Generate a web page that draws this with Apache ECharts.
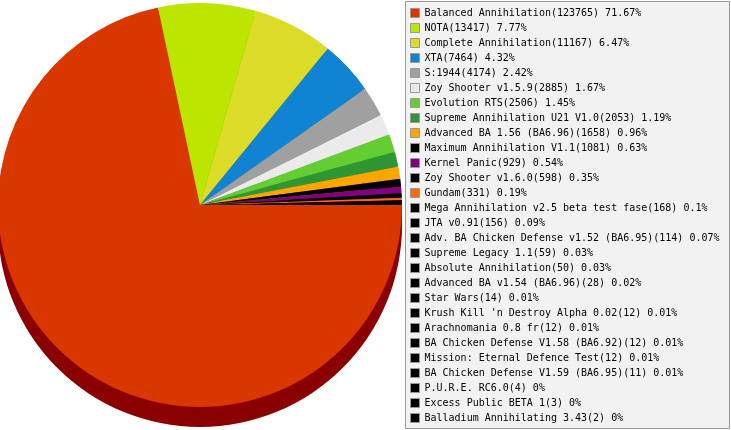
<!DOCTYPE html>
<html>
<head>
<meta charset="utf-8">
<script src="https://cdn.jsdelivr.net/npm/echarts@6/dist/echarts.min.js"></script>
<style>
html,body{margin:0;padding:0;background:#fff;}
#c{width:731px;height:430px;}
</style>
</head>
<body>
<div id="c"></div>
<script>
var names = [
  "Balanced Annihilation", "NOTA", "Complete Annihilation", "XTA", "S:1944",
  "Zoy Shooter v1.5.9", "Evolution RTS", "Supreme Annihilation U21 V1.0",
  "Advanced BA 1.56 (BA6.96)", "Maximum Annihilation V1.1", "Kernel Panic",
  "Zoy Shooter v1.6.0", "Gundam", "Mega Annihilation v2.5 beta test fase",
  "JTA v0.91", "Adv. BA Chicken Defense v1.52 (BA6.95)", "Supreme Legacy 1.1",
  "Absolute Annihilation", "Advanced BA v1.54 (BA6.96)", "Star Wars",
  "Krush Kill 'n Destroy Alpha 0.02", "Arachnomania 0.8 fr",
  "BA Chicken Defense V1.58 (BA6.92)", "Mission: Eternal Defence Test",
  "BA Chicken Defense V1.59 (BA6.95)", "P.U.R.E. RC6.0", "Excess Public BETA 1",
  "Balladium Annihilating 3.43"
];
var values = [123765, 13417, 11167, 7464, 4174, 2885, 2506, 2053, 1658, 1081, 929,
  598, 331, 168, 156, 114, 59, 50, 28, 14, 12, 12, 12, 12, 11, 4, 3, 2];
var percents = ["71.67", "7.77", "6.47", "4.32", "2.42", "1.67", "1.45", "1.19",
  "0.96", "0.63", "0.54", "0.35", "0.19", "0.1", "0.09", "0.07", "0.03", "0.03",
  "0.02", "0.01", "0.01", "0.01", "0.01", "0.01", "0.01", "0", "0", "0"];
var colors = ["#DA3600", "#BCE600", "#DCDC28", "#1084D2", "#A0A0A0", "#EBEBEB",
  "#64CD32", "#2E9632", "#FFA500", "#000000", "#800080", "#000000", "#FF6611",
  "#000000", "#000000", "#000000", "#000000", "#000000", "#000000", "#000000",
  "#000000", "#000000", "#000000", "#000000", "#000000", "#000000", "#000000", "#000000"];
var sideColors = ["#8B0000", "#83A100", "#9A9A1C", "#0B5C93", "#707070", "#A4A4A4",
  "#468F23", "#206923", "#B27300", "#000000", "#590059", "#000000", "#B2470C",
  "#000000", "#000000", "#000000", "#000000", "#000000", "#000000", "#000000",
  "#000000", "#000000", "#000000", "#000000", "#000000", "#000000", "#000000", "#000000"];

var pctByName = {};
names.forEach(function (n, i) { pctByName[n] = { v: values[i], p: percents[i] }; });

function makeData(cols) {
  return names.map(function (n, i) {
    return { name: n, value: values[i], itemStyle: { color: cols[i] } };
  });
}

var cx = 200, cy = 205, R = 202, depth = 20;
var series = [{
  type: 'pie', name: 'top', z: 10, silent: true,
  center: [cx, cy], radius: [0, R], startAngle: 0, clockwise: true,
  label: { show: false }, labelLine: { show: false },
  itemStyle: { borderWidth: 0 },
  emphasis: { disabled: true, scale: false },
  data: makeData(colors)
}];
[depth, depth * 2 / 3, depth / 3].forEach(function (d, k) {
  series.push({
    type: 'pie', name: 'side' + k, z: 2 + k, silent: true,
    center: [cx, cy + d], radius: [0, R], startAngle: 0, clockwise: true,
    label: { show: false }, labelLine: { show: false },
    itemStyle: { borderWidth: 0 },
    emphasis: { disabled: true, scale: false },
    data: makeData(sideColors)
  });
});

var chart = echarts.init(document.getElementById('c'), null, { renderer: 'canvas' });
chart.setOption({
  animation: false,
  backgroundColor: '#ffffff',
  graphic: [{
    type: 'rect', z: 0, silent: true,
    shape: { x: 405.5, y: 1.5, width: 324, height: 427 },
    style: { fill: '#F2F2F2', stroke: '#999999', lineWidth: 1 }
  }],
  legend: {
    orient: 'vertical', left: 410, top: 8, height: 422, padding: 0,
    itemWidth: 9, itemHeight: 9, itemGap: 5, itemTextGap: 5,
    icon: 'rect', selectedMode: false, z: 20,
    itemStyle: { borderColor: '#999999', borderWidth: 1 },
    textStyle: { fontFamily: 'DejaVu Sans Mono', fontSize: 10, color: '#000', lineHeight: 9 },
    data: names,
    formatter: function (n) {
      var o = pctByName[n];
      return n + '(' + o.v + ') ' + o.p + '%';
    }
  },
  series: series
});
</script>
</body>
</html>
